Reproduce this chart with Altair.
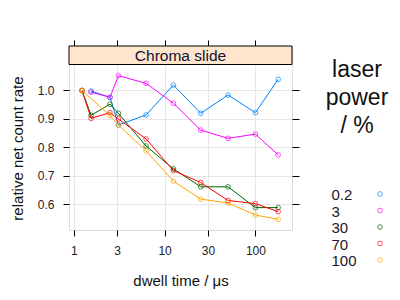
import altair as alt
import pandas as pd

# dwell times (µs)
dwell = [1.23, 1.55, 2.5, 3.1, 6.25, 12.5, 25, 50, 100, 178]
power_levels = ["0.2", "3", "30", "70", "100"]
colors = ["#0080ff", "#ff00ff", "#006400", "#ff0000", "#ffa500"]

# relative net count rate per laser power (None = no point)
rate_02 = [None, 0.998, 0.976, 0.879, 0.914, 1.019, 0.920, 0.984, 0.922, 1.039]
rate_3 = [None, 0.994, 0.976, 1.052, 1.025, 0.955, 0.861, 0.832, 0.847, 0.774]
rate_30 = [1.0, 0.913, 0.952, 0.920, 0.805, 0.725, 0.662, 0.662, 0.589, 0.589]
rate_70 = [1.0, 0.902, 0.922, 0.900, 0.830, 0.719, 0.677, 0.614, 0.603, 0.575]
rate_100 = [1.0, None, 0.912, 0.879, 0.788, 0.682, 0.619, 0.605, 0.563, 0.548]

legend_title = "laser\npower\n/ %"
panel_title = "Chroma slide"

series = dict(zip(power_levels, [rate_02, rate_3, rate_30, rate_70, rate_100]))
rows = []
for p in power_levels:
    for d, r in zip(dwell, series[p]):
        if r is not None:
            rows.append({"dwell": d, "rate": r, "power": p})
df = pd.DataFrame(rows)
legend_df = pd.DataFrame({"power": power_levels})

W, H = 223, 184
FONT = "Liberation Sans"
xdom = [0.885, 253]
ydom = [0.5105, 1.156]
xticks = [1, 3, 10, 30, 100]
yticks = [0.6, 0.7, 0.8, 0.9, 1.0]

color = alt.Color(
    "power:N",
    sort=power_levels,
    scale=alt.Scale(domain=power_levels, range=colors),
    legend=None,
)

line_x = alt.X(
    "dwell:Q",
    scale=alt.Scale(type="log", domain=xdom),
    axis=alt.Axis(
        values=xticks, format="~g", title="dwell time / μs", grid=True,
        gridColor="#e6e6e6", domain=False, tickColor="black", tickSize=6,
        labelFontSize=12, labelFont=FONT, labelColor="#222222", labelPadding=9,
        titleFont=FONT, titleFontSize=15, titleFontWeight="normal",
        titleColor="#111111", titleY=50, titleBaseline="middle",
    ),
)
line_y = alt.Y(
    "rate:Q",
    scale=alt.Scale(domain=ydom),
    axis=alt.Axis(
        values=yticks, format=".1f", title="relative net count rate", grid=True,
        gridColor="#e6e6e6", domain=False, tickColor="black", tickSize=6,
        labelFontSize=12, labelFont=FONT, labelColor="#222222", labelPadding=9,
        titleFont=FONT, titleFontSize=15, titleFontWeight="normal",
        titleColor="#111111", titleX=-52, titleY=102, titleBaseline="middle",
        titleAngle=270,
    ),
)

lines = alt.Chart(df).mark_line(strokeWidth=1).encode(
    x=line_x, y=line_y, color=color, detail="power:N", order="dwell:Q"
)

pt_x = alt.X(
    "dwell:Q",
    scale=alt.Scale(type="log", domain=xdom),
    axis=alt.Axis(orient="top", values=xticks, labels=False, grid=False,
                  domain=False, tickColor="black", tickSize=6, title=None),
)
pt_y = alt.Y(
    "rate:Q",
    scale=alt.Scale(domain=ydom),
    axis=alt.Axis(orient="right", values=yticks, labels=False, grid=False,
                  domain=False, tickColor="black", tickSize=7, title=None),
)
points = alt.Chart(df).mark_point(filled=False, size=22, strokeWidth=1).encode(
    x=pt_x, y=pt_y, color=color
)

strip_df = pd.DataFrame({"label": [panel_title]})
strip = alt.Chart(strip_df).mark_rect(
    fill="#ffe5cc", stroke="black", strokeWidth=1
).encode(
    x=alt.value(0), x2=alt.value(W), y=alt.value(0), y2=alt.value(18.5)
)
strip_text = alt.Chart(strip_df).mark_text(
    font=FONT, fontSize=15.5, color="#111133", baseline="middle", align="center"
).encode(x=alt.value(W / 2), y=alt.value(10), text="label:N")

# legend (key) drawn outside the panel on the right
legend_y = alt.Y(
    "power:N",
    sort=power_levels,
    scale=alt.Scale(type="point", domain=power_levels, range=[148, 214], padding=0),
    axis=None,
)
key_labels = alt.Chart(legend_df).mark_text(
    font=FONT, fontSize=15, color="#1a1a2a", align="left", baseline="middle", dy=1
).encode(x=alt.value(262.5), y=legend_y, text="power:N")
key_points = alt.Chart(legend_df).mark_point(
    filled=False, size=22, strokeWidth=1
).encode(x=alt.value(311), y=legend_y, color=color)

title_df = pd.DataFrame({"t": [legend_title]})
key_title = alt.Chart(title_df).mark_text(
    font=FONT, fontSize=23, color="#111111", align="center", baseline="top",
    lineBreak="\n", lineHeight=28,
).encode(x=alt.value(288), y=alt.value(13), text="t:N")

chart = (
    alt.layer(lines, points, strip, strip_text, key_labels, key_points, key_title)
    .resolve_axis(x="independent", y="independent")
    .resolve_scale(y="independent")
    .properties(
        width=W, height=H,
        autosize=alt.AutoSizeParams(type="none"),
        padding={"left": 61, "top": 38, "right": 100, "bottom": 62},
    )
    .configure_view(stroke="black", strokeWidth=1)
    .configure(background="white")
)

chart.save("out.html", embed_options={"renderer": "svg", "actions": False})
